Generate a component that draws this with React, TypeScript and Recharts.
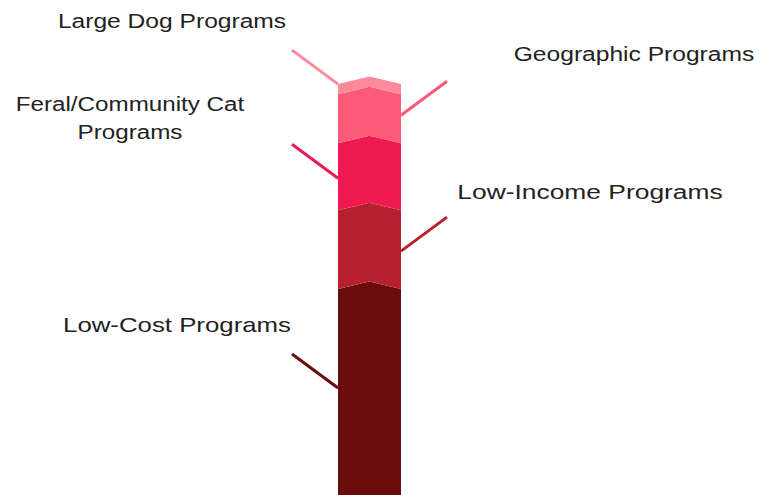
import { BarChart, Bar, XAxis, YAxis } from "recharts";

// one stacked column, bottom to top
const categories = ["Programs"];
const seriesKeys = ["lowCost", "lowIncome", "feral", "geographic", "largeDog"];
const seriesNames = [
  "Low-Cost Programs",
  "Low-Income Programs",
  "Feral/Community Cat Programs",
  "Geographic Programs",
  "Large Dog Programs",
];
const seriesValues = [50.1, 19.2, 16.3, 11.9, 2.5];
const labelLines = [
  ["Low-Cost Programs"],
  ["Low-Income Programs"],
  ["Feral/Community Cat", "Programs"],
  ["Geographic Programs"],
  ["Large Dog Programs"],
];

const COLORS = ["#6b0c0c", "#b7202e", "#ee1a4f", "#fd5a77", "#fd8a9b"];

// where each callout sits relative to its segment
const LABEL_LAYOUT = [
  { side: "left", anchorDy: -4, textDx: -115, textDy: -22, stretch: 1.29 },
  { side: "right", anchorDy: 1.5, textDx: 143, textDy: -18, stretch: 1.32 },
  { side: "left", anchorDy: 1.5, textDx: -162, textDy: -33, stretch: 1.21 },
  { side: "right", anchorDy: -3.5, textDx: 187, textDy: -20, stretch: 1.23 },
  { side: "left", anchorDy: -5, textDx: -120, textDy: -22, stretch: 1.23 },
];

const CHEVRON = 7.5;

const data = categories.map((name) => {
  const row: any = { name };
  seriesKeys.forEach((k, i) => (row[k] = seriesValues[i]));
  return row;
});

function makeShape(index: number) {
  return (props: any) => {
    const { x, y, width, height } = props;
    const fill = COLORS[index];
    const isBottom = index === 0;
    const mid = x + width / 2;
    const bottom = y + height;
    const points = [
      [x, y],
      [mid, y - CHEVRON],
      [x + width, y],
      [x + width, bottom],
      [mid, isBottom ? bottom : bottom - CHEVRON],
      [x, bottom],
    ]
      .map((p) => p.join(","))
      .join(" ");

    const lay = LABEL_LAYOUT[index];
    const ay = y + height / 2 + lay.anchorDy;
    const ax = lay.side === "left" ? x : x + width;
    const ox = lay.side === "left" ? ax - 46 : ax + 46;
    const oy = ay - 34;
    const tx = ox + lay.textDx;
    const ty = oy + lay.textDy;

    return (
      <g>
        <polygon points={points} fill={fill} />
        <line x1={ax} y1={ay} x2={ox} y2={oy} stroke={fill} strokeWidth={3} />
        <g transform={`translate(${tx},${ty}) scale(${lay.stretch},1)`}>
          <text
            x={0}
            y={0}
            textAnchor="middle"
            fontFamily="'Liberation Sans', Arial, sans-serif"
            fontSize={20}
            fill="#222"
          >
            {labelLines[index].map((ln, i) => (
              <tspan key={i} x={0} dy={i === 0 ? 0 : 28}>
                {ln}
              </tspan>
            ))}
          </text>
        </g>
      </g>
    );
  };
}

export default function App() {
  return (
    <div style={{ position: "absolute", left: 0, top: 0 }}>
      <BarChart
        width={772}
        height={495}
        data={data}
        margin={{ top: 84, right: 33, bottom: 0, left: 0 }}
      >
        <XAxis dataKey="name" hide />
        <YAxis hide domain={[0, 100]} />
        {seriesKeys.map((key, i) => (
          <Bar
            key={key}
            dataKey={key}
            name={seriesNames[i]}
            stackId="a"
            barSize={63}
            fill={COLORS[i]}
            shape={makeShape(i)}
            isAnimationActive={false}
          />
        ))}
      </BarChart>
    </div>
  );
}
